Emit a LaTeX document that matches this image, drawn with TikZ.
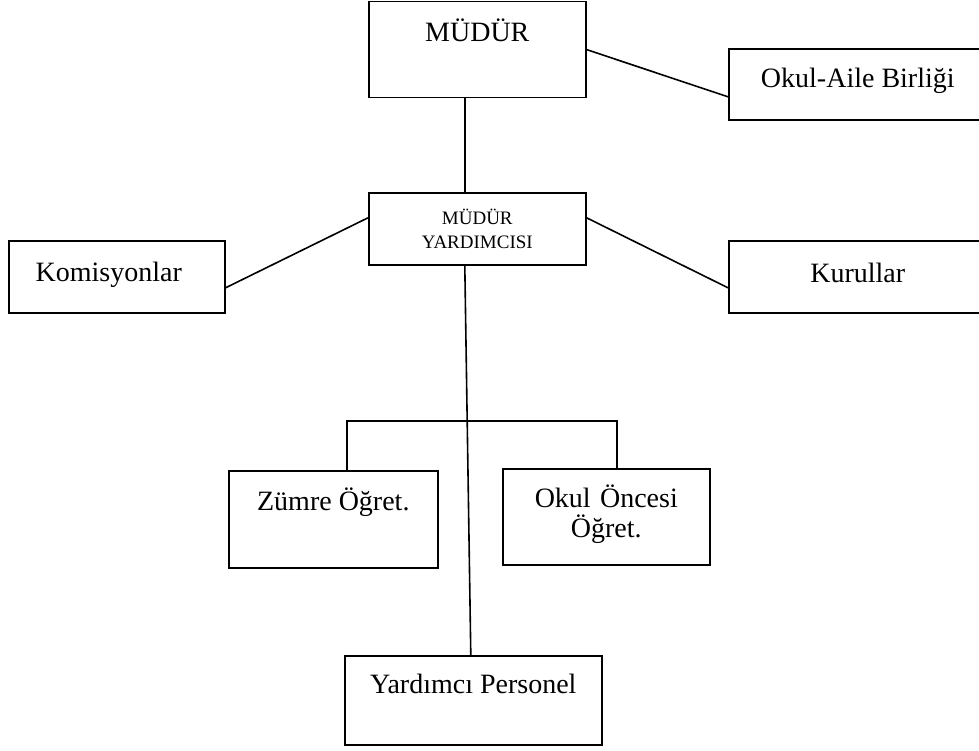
\documentclass[tikz,border=0pt]{standalone}
\usepackage{fontspec}
\setmainfont{Liberation Serif}
\usepackage{tikz}

\tikzset{
    orgbox/.style={draw, line width=1.6pt, inner sep=0pt, anchor=north west},
    boxtext/.style={anchor=base, inner sep=0pt, font=\fontsize{28}{30}\selectfont},
    smalltext/.style={anchor=base, inner sep=0pt, font=\fontsize{19}{24}\selectfont},
    link/.style={line width=1.6pt},
}

\begin{document}
\begin{tikzpicture}[x=1pt,y=-1pt]
        \useasboundingbox (0,0) rectangle (979,751);

        % Boxes, placed by their top left corner
        \node[orgbox, minimum width=217pt, minimum height=96pt,
              label={[boxtext, yshift=-41pt]north:MÜDÜR}] (mudur) at (368,0.8) {};
        \node[orgbox, minimum width=258pt, minimum height=71pt,
              label={[boxtext, yshift=-40pt]north:Okul-Aile Birliği}] (okulaile) at (728,48) {};
        \node[orgbox, minimum width=217pt, minimum height=72pt,
              label={[smalltext, text width=200pt, align=center, yshift=-32.5pt]north:{MÜDÜR\\YARDIMCISI}}] (yardimcisi) at (368,192) {};
        \node[orgbox, minimum width=216pt, minimum height=72pt,
              label={[boxtext, xshift=-8pt, yshift=-41pt]north:Komisyonlar}] (komisyon) at (8,240) {};
        \node[orgbox, minimum width=258pt, minimum height=72pt,
              label={[boxtext, yshift=-42pt]north:Kurullar}] (kurullar) at (728,240) {};
        \node[orgbox, minimum width=209pt, minimum height=97pt,
              label={[boxtext, yshift=-40pt]north:Zümre Öğret.}] (zumre) at (228,470) {};
        \node[orgbox, minimum width=207pt, minimum height=96pt,
              label={[boxtext, text width=200pt, align=center, yshift=-39pt]north:{Okul Öncesi\\Öğret.}}] (okuloncesi) at (502,468) {};
        \node[orgbox, minimum width=257pt, minimum height=89pt,
              label={[boxtext, yshift=-38pt]north:Yardımcı Personel}] (personel) at (344,655) {};

        % Connectors
        \coordinate (bar) at (480,421);
        \draw[link] (mudur.east) -- ([yshift=-12.5pt]okulaile.west);
        \draw[link] ([xshift=-12.5pt]mudur.south) -- ([xshift=-12.5pt]yardimcisi.north);
        \draw[link] ([yshift=11pt]yardimcisi.west) -- ([yshift=-11pt]komisyon.east);
        \draw[link] ([yshift=11pt]yardimcisi.east) -- ([yshift=-11pt]kurullar.west);
        \draw[link] ([xshift=-12.5pt]yardimcisi.south) -- ([xshift=-2.5pt]personel.north);
        \draw[link] ([xshift=13.5pt]zumre.north) |- (bar) -| ([xshift=10.5pt]okuloncesi.north);

    \end{tikzpicture}
\end{document}
